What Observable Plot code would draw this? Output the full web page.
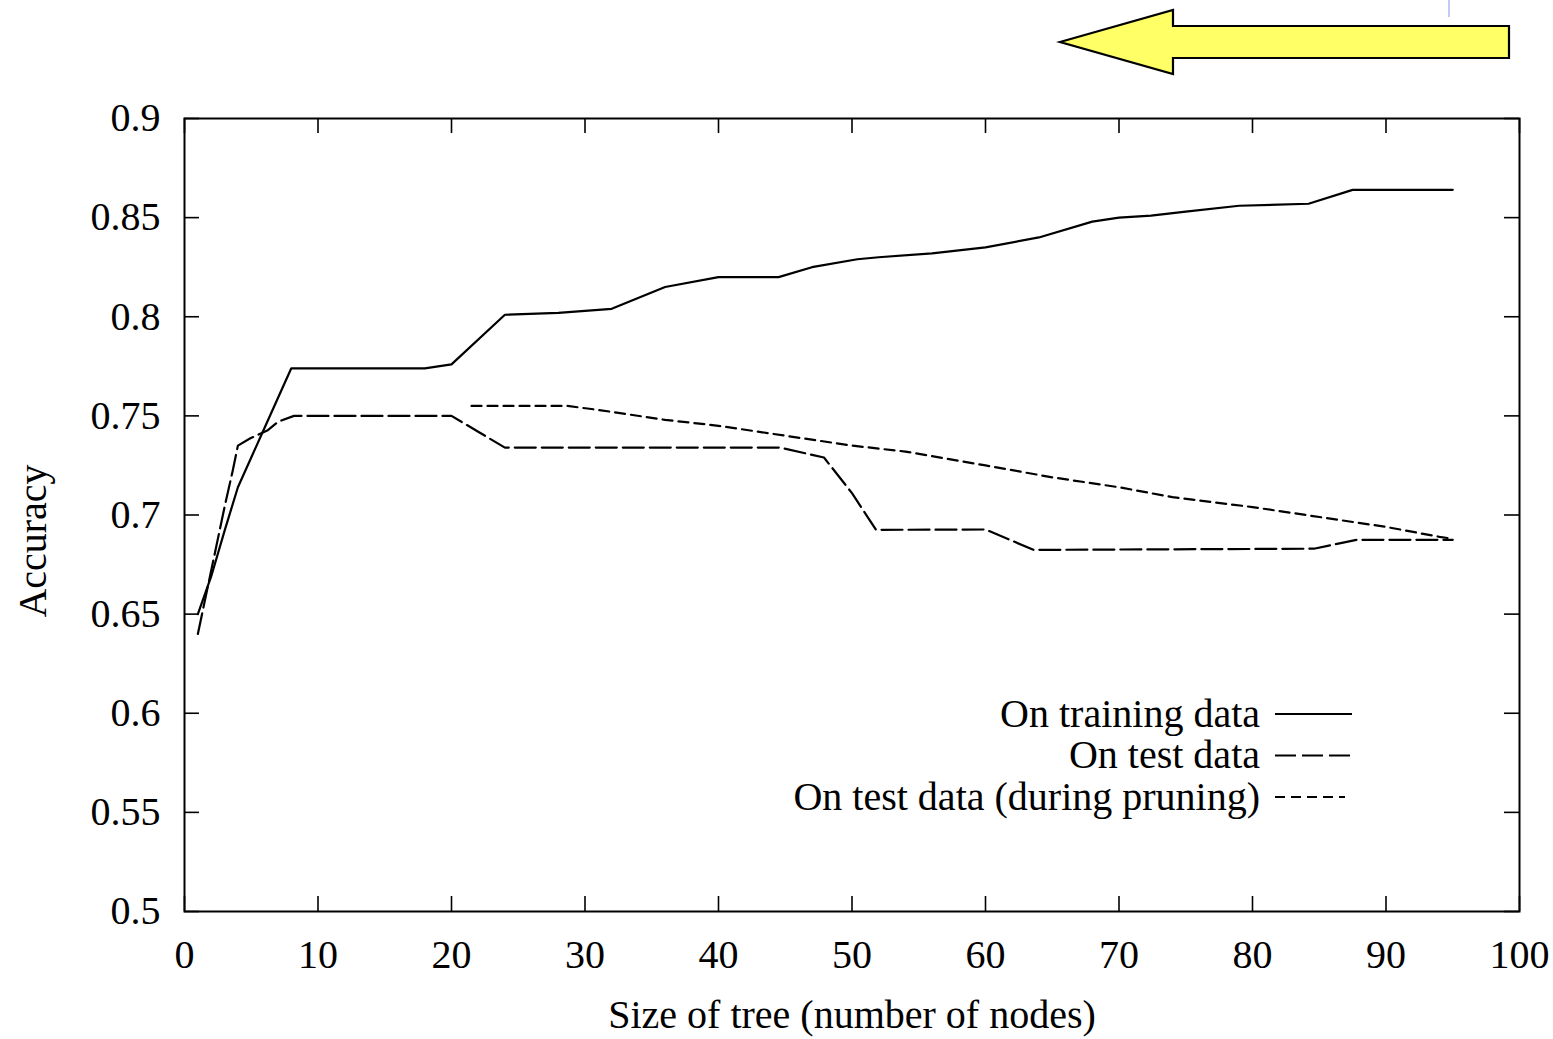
<!DOCTYPE html>
<html><head><meta charset="utf-8">
<script src="https://cdn.jsdelivr.net/npm/d3@7"></script>
<script src="https://cdn.jsdelivr.net/npm/@observablehq/plot@0.6"></script>
<style>
body{margin:0;background:#fff;font-family:"Liberation Serif",serif;}
#wrap{position:relative;width:1553px;height:1039px;overflow:hidden;background:#fff}
#wrap svg.overlay{position:absolute;left:0;top:0}
</style></head><body><div id="wrap"></div>
<script>
// ---- data ----
const xTicks = [0, 10, 20, 30, 40, 50, 60, 70, 80, 90, 100];
const yTicks = [0.5, 0.55, 0.6, 0.65, 0.7, 0.75, 0.8, 0.85, 0.9];

const seriesNames = ["On training data", "On test data", "On test data (during pruning)"];
const xTitle = "Size of tree (number of nodes)";
const yTitle = "Accuracy";

const trainX = [1, 2, 3, 4, 5, 6, 7, 8, 18, 20, 24, 28, 30, 32, 36, 40, 44.5, 47, 50.4, 52, 56, 60, 64, 68, 70, 72.4, 75, 79, 84.2, 87.5, 95];
const trainY = [0.650, 0.669, 0.692, 0.714, 0.729, 0.744, 0.759, 0.774, 0.774, 0.776, 0.801, 0.802, 0.803, 0.804, 0.815, 0.820, 0.820, 0.825, 0.829, 0.830, 0.832, 0.835, 0.840, 0.848, 0.850, 0.851, 0.853, 0.856, 0.857, 0.864, 0.864];

const testX = [1, 2, 3, 3.6, 4, 4.9, 6.2, 7, 8.2, 20, 22, 24, 44.6, 47.9, 50, 51.8, 60, 63.6, 84.6, 87.8, 95];
const testY = [0.640, 0.672, 0.704, 0.722, 0.735, 0.7386, 0.7426, 0.747, 0.750, 0.750, 0.742, 0.734, 0.734, 0.729, 0.711, 0.6925, 0.6927, 0.6824, 0.683, 0.6875, 0.6875];

const pruneX = [21.5, 28.7, 31, 36, 40, 44, 50, 54, 60, 65, 70, 74, 80, 84, 90, 94, 95];
const pruneY = [0.755, 0.755, 0.753, 0.748, 0.745, 0.741, 0.735, 0.732, 0.725, 0.719, 0.714, 0.709, 0.704, 0.700, 0.694, 0.689, 0.688];

// ---- layout ----
const W = 1553, H = 1039, mL = 184, mR = 34, mT = 118, mB = 128;
const plotW = W - mL - mR, plotH = H - mT - mB;
const tick = 15;
const font = '"Liberation Serif", "Times New Roman", serif';

const toRows = (xs, ys) => xs.map((x, i) => ({x, y: ys[i]}));

const chart = Plot.plot({
  width: W, height: H,
  marginLeft: mL, marginRight: mR, marginTop: mT, marginBottom: mB,
  style: {fontFamily: font, fontSize: "40px", color: "#000", background: "#fff", overflow: "visible"},
  x: {domain: [0, 100]},
  y: {domain: [0.5, 0.9]},
  marks: [
    Plot.axisX(xTicks, {tickSize: 0, tickPadding: 28, fontSize: 40, label: null}),
    Plot.axisY(yTicks, {tickSize: 0, tickPadding: 24, fontSize: 40, label: null, tickFormat: d => String(d)}),
    Plot.ruleX(xTicks, {x: d => d, insetTop: plotH - tick, stroke: "#000", strokeWidth: 1.6}),
    Plot.ruleX(xTicks, {x: d => d, insetBottom: plotH - tick, stroke: "#000", strokeWidth: 1.6}),
    Plot.ruleY(yTicks, {y: d => d, insetRight: plotW - tick, stroke: "#000", strokeWidth: 1.6}),
    Plot.ruleY(yTicks, {y: d => d, insetLeft: plotW - tick, stroke: "#000", strokeWidth: 1.6}),
    Plot.line(toRows(pruneX, pruneY), {x: "x", y: "y", stroke: "#000", strokeWidth: 2.2, strokeDasharray: "10,6"}),
    Plot.line(toRows(testX, testY), {x: "x", y: "y", stroke: "#000", strokeWidth: 2.2, strokeDasharray: "21,6"}),
    Plot.line(toRows(trainX, trainY), {x: "x", y: "y", stroke: "#000", strokeWidth: 2.2}),
    Plot.frame({stroke: "#000", strokeWidth: 2}),
    Plot.text([xTitle], {text: d => d, frameAnchor: "bottom", dy: 116, fontSize: 40, fill: "#000"})
  ]
});
const wrap = document.getElementById("wrap");
wrap.appendChild(chart);

// ---- overlay: arrow, y title, legend ----
const ns = "http://www.w3.org/2000/svg";
const ov = document.createElementNS(ns, "svg");
ov.setAttribute("class", "overlay");
ov.setAttribute("width", W);
ov.setAttribute("height", H);
ov.innerHTML = `
  <line x1="1449" y1="0" x2="1449" y2="17" stroke="#c8c8f4" stroke-width="2"/>
  <polygon points="1060,42 1173,10 1173,26 1509,26 1509,58 1173,58 1173,74" fill="#ffff66" stroke="#000" stroke-width="2.2" stroke-linejoin="miter"/>
`;
const yt = document.createElementNS(ns, "text");
yt.setAttribute("transform", "translate(33,541) rotate(-90)");
yt.setAttribute("dy", "0.32em");
yt.setAttribute("text-anchor", "middle");
yt.setAttribute("font-family", font);
yt.setAttribute("font-size", "40");
yt.setAttribute("fill", "#000");
yt.textContent = yTitle;
ov.appendChild(yt);

const legendStyles = [null, "21,6", "10,6"];
const legendLen = [77, 77, 70];
seriesNames.forEach((name, i) => {
  const y = 714 + i * 41.5;
  const t = document.createElementNS(ns, "text");
  t.setAttribute("x", 1260);
  t.setAttribute("y", y);
  t.setAttribute("dy", "0.32em");
  t.setAttribute("text-anchor", "end");
  t.setAttribute("font-family", font);
  t.setAttribute("font-size", "40");
  t.setAttribute("fill", "#000");
  t.textContent = name;
  ov.appendChild(t);
  const l = document.createElementNS(ns, "line");
  l.setAttribute("x1", 1275);
  l.setAttribute("x2", 1275 + legendLen[i]);
  l.setAttribute("y1", y);
  l.setAttribute("y2", y);
  l.setAttribute("stroke", "#000");
  l.setAttribute("stroke-width", "2.2");
  if (legendStyles[i]) l.setAttribute("stroke-dasharray", legendStyles[i]);
  ov.appendChild(l);
});
wrap.appendChild(ov);
</script>
</body></html>
